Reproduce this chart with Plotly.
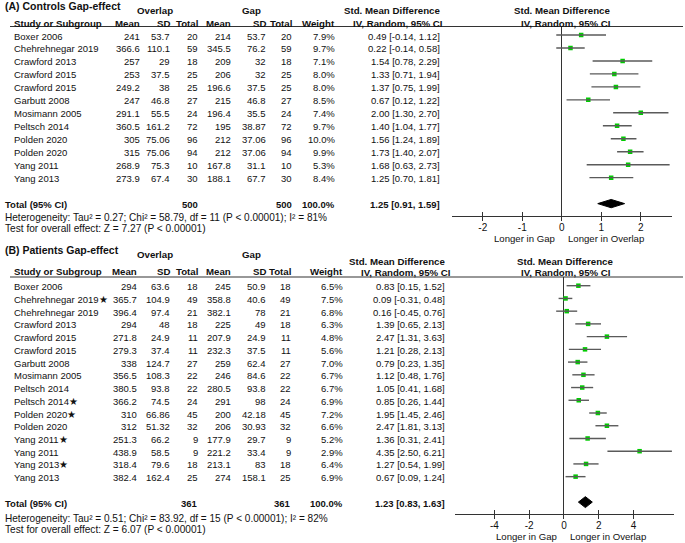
import plotly.graph_objects as go

# ---------------- data: panel A (Controls) ----------------
A_study = ["Boxer 2006", "Chehrehnegar 2019", "Crawford 2013", "Crawford 2015", "Crawford 2015",
           "Garbutt 2008", "Mosimann 2005", "Peltsch 2014", "Polden 2020", "Polden 2020",
           "Yang 2011", "Yang 2013"]
A_ov_mean = [241, 366.6, 257, 253, 249.2, 247, 291.1, 360.5, 305, 315, 268.9, 273.9]
A_ov_sd = [53.7, 110.1, 29, 37.5, 38, 46.8, 55.5, 161.2, 75.06, 75.06, 75.3, 67.4]
A_ov_n = [20, 59, 18, 25, 25, 27, 24, 72, 96, 94, 10, 30]
A_gap_mean = [214, 345.5, 209, 206, 196.6, 215, 196.4, 195, 212, 212, 167.8, 188.1]
A_gap_sd = [53.7, 76.2, 32, 32, 37.5, 46.8, 35.5, 38.87, 37.06, 37.06, 31.1, 67.7]
A_gap_n = [20, 59, 18, 25, 25, 27, 24, 72, 96, 94, 10, 30]
A_weight = [7.9, 9.7, 7.1, 8.0, 8.0, 8.5, 7.4, 9.7, 10.0, 9.9, 5.3, 8.4]
A_smd = [0.49, 0.22, 1.54, 1.33, 1.37, 0.67, 2.00, 1.40, 1.56, 1.73, 1.68, 1.25]
A_lo = [-0.14, -0.14, 0.78, 0.71, 0.75, 0.12, 1.30, 1.04, 1.24, 1.40, 0.63, 0.70]
A_hi = [1.12, 0.58, 2.29, 1.94, 1.99, 1.22, 2.70, 1.77, 1.89, 2.07, 2.73, 1.81]
A_total = {"n_ov": 500, "n_gap": 500, "smd": 1.25, "lo": 0.91, "hi": 1.59}
A_het = "Heterogeneity: Tau² = 0.27; Chi² = 58.79, df = 11 (P < 0.00001); I² = 81%"
A_test = "Test for overall effect: Z = 7.27 (P < 0.00001)"
A_ticks = [-2, -1, 0, 1, 2]

# ---------------- data: panel B (Patients) ----------------
B_study = ["Boxer 2006", "Chehrehnegar 2019★", "Chehrehnegar 2019", "Crawford 2013", "Crawford 2015",
           "Crawford 2015", "Garbutt 2008", "Mosimann 2005", "Peltsch 2014", "Peltsch 2014★",
           "Polden 2020★", "Polden 2020", "Yang 2011★", "Yang 2011", "Yang 2013★", "Yang 2013"]
B_ov_mean = [294, 365.7, 396.4, 294, 271.8, 279.3, 338, 356.5, 380.5, 366.2, 310, 312, 251.3, 438.9, 318.4, 382.4]
B_ov_sd = [63.6, 104.9, 97.4, 48, 24.9, 37.4, 124.7, 108.3, 93.8, 74.5, 66.86, 51.32, 66.2, 58.5, 79.6, 162.4]
B_ov_n = [18, 49, 21, 18, 11, 11, 27, 22, 22, 24, 45, 32, 9, 9, 18, 25]
B_gap_mean = [245, 358.8, 382.1, 225, 207.9, 232.3, 259, 246, 280.5, 291, 200, 206, 177.9, 221.2, 213.1, 274]
B_gap_sd = [50.9, 40.6, 78, 49, 24.9, 37.5, 62.4, 84.6, 93.8, 98, 42.18, 30.93, 29.7, 33.4, 83, 158.1]
B_gap_n = [18, 49, 21, 18, 11, 11, 27, 22, 22, 24, 45, 32, 9, 9, 18, 25]
B_weight = [6.5, 7.5, 6.8, 6.3, 4.8, 5.6, 7.0, 6.7, 6.7, 6.9, 7.2, 6.6, 5.2, 2.9, 6.4, 6.9]
B_smd = [0.83, 0.09, 0.16, 1.39, 2.47, 1.21, 0.79, 1.12, 1.05, 0.85, 1.95, 2.47, 1.36, 4.35, 1.27, 0.67]
B_lo = [0.15, -0.31, -0.45, 0.65, 1.31, 0.28, 0.23, 0.48, 0.41, 0.26, 1.45, 1.81, 0.31, 2.50, 0.54, 0.09]
B_hi = [1.52, 0.48, 0.76, 2.13, 3.63, 2.13, 1.35, 1.76, 1.68, 1.44, 2.46, 3.13, 2.41, 6.21, 1.99, 1.24]
B_total = {"n_ov": 361, "n_gap": 361, "smd": 1.23, "lo": 0.83, "hi": 1.63}
B_het = "Heterogeneity: Tau² = 0.51; Chi² = 83.92, df = 15 (P < 0.00001); I² = 82%"
B_test = "Test for overall effect: Z = 6.07 (P < 0.00001)"
B_ticks = [-4, -2, 0, 2, 4]

# ---------------- layout helpers ----------------
W, H = 685, 543
FONT = "Liberation Sans, Arial, sans-serif"
TXT = "#111111"
LINE = "#333333"
CI_COL = "#5a5a5a"
GREEN = "#00cc00"


def fx(px):
    return px / W


def fy(py):
    return 1 - py / H


annotations = []


def ann(text, x, y, xanchor="right", yref="paper", size=9.5, bold=False, yshift=0, xref="paper", xshift=0):
    if bold:
        text = "<b>" + text + "</b>"
    annotations.append(dict(text=text, x=x, y=y, xref=xref, yref=yref, xanchor=xanchor,
                            yanchor="middle", showarrow=False, xshift=xshift, yshift=yshift,
                            font=dict(family=FONT, size=size, color=TXT)))


def fmt(v):
    return f"{v:g}"


def fmt_ci(s, lo, hi):
    return f"{s:.2f} [{lo:.2f}, {hi:.2f}]"


panels = [
    dict(title="(A) Controls Gap-effect", study=A_study, ov_mean=A_ov_mean, ov_sd=A_ov_sd, ov_n=A_ov_n,
         gap_mean=A_gap_mean, gap_sd=A_gap_sd, gap_n=A_gap_n, weight=A_weight, smd=A_smd, lo=A_lo, hi=A_hi,
         total=A_total, het=A_het, test=A_test, ticks=A_ticks,
         cols=[142, 172, 200, 233, 268, 294, 337], ci_x=442,
         y_title=6, y_group=11, y_std=11, y_head=23.5, y_iv=23.5, y_line=26.5,
         std_c=391.5, iv_c=397.5, rstd_c=561.5, riv_c=566,
         row0=35, step=12.97, axis_y=216, y_het=217.3, y_test=228.3, y_lab=238,
         xdom=(452, 672), xrange=(-2.78, 2.79), dh=0.32, xr="x", yr="y", xo="x3"),
    dict(title="(B) Patients Gap-effect", study=B_study, ov_mean=B_ov_mean, ov_sd=B_ov_sd, ov_n=B_ov_n,
         gap_mean=B_gap_mean, gap_sd=B_gap_sd, gap_n=B_gap_n, weight=B_weight, smd=B_smd, lo=B_lo, hi=B_hi,
         total=B_total, het=B_het, test=B_test, ticks=B_ticks,
         cols=[139, 172, 200, 233, 268, 293, 345], ci_x=447,
         y_title=249.5, y_group=254, y_std=261, y_head=271.5, y_iv=272.5, y_line=277,
         std_c=396.5, iv_c=406, rstd_c=564.5, riv_c=566,
         row0=285.7, step=12.73, axis_y=514, y_het=518.3, y_test=529.3, y_lab=536.5,
         xdom=(455, 674), xrange=(-6.27, 6.33), dh=0.43, xr="x2", yr="y2", xo="x4"),
]

fig = go.Figure()
shapes = []
layout_axes = {}

for k, p in enumerate(panels):
    n = len(p["study"])
    rows = list(range(n))
    total_row = n + 1
    c = p["cols"]
    yr = p["yr"]

    # headers
    ann(p["title"], fx(3), fy(p["y_title"]), xanchor="left", size=10.5, bold=True)
    ann("Overlap", fx(155), fy(p["y_group"]), xanchor="center", size=9.7, bold=True)
    ann("Gap", fx(252), fy(p["y_group"]), xanchor="center", size=9.7, bold=True)
    ann("Study or Subgroup", fx(12), fy(p["y_head"]), xanchor="left", size=9.7, bold=True)
    for lab, xc in zip(["Mean", "SD", "Total", "Mean", "SD", "Total", "Weight"], c):
        ann(lab, fx(xc), fy(p["y_head"]), xanchor="right", size=9.7, bold=True)
    ann("Std. Mean Difference", fx(p["std_c"]), fy(p["y_std"]), xanchor="center", size=9.7, bold=True)
    ann("IV, Random, 95% CI", fx(p["iv_c"]), fy(p["y_iv"]), xanchor="center", size=9.7, bold=True)
    ann("Std. Mean Difference", fx(p["rstd_c"]), fy(p["y_std"]), xanchor="center", size=9.7, bold=True)
    ann("IV, Random, 95% CI", fx(p["riv_c"]), fy(p["y_iv"]), xanchor="center", size=9.7, bold=True)
    shapes.append(dict(type="line", xref="paper", yref="paper", x0=fx(10), x1=fx(683),
                       y0=fy(p["y_line"]), y1=fy(p["y_line"]), line=dict(color=LINE, width=1.2)))

    # study rows
    for i in rows:
        vals = [fmt(p["ov_mean"][i]), fmt(p["ov_sd"][i]), str(p["ov_n"][i]),
                fmt(p["gap_mean"][i]), fmt(p["gap_sd"][i]), str(p["gap_n"][i]),
                f"{p['weight'][i]:.1f}%"]
        ann(p["study"][i], fx(12), i, xanchor="left", yref=yr, yshift=-1)
        for v, xc in zip(vals, c):
            ann(v, fx(xc), i, xanchor="right", yref=yr, yshift=-1)
        ann(fmt_ci(p["smd"][i], p["lo"][i], p["hi"][i]), fx(p["ci_x"]), i, xanchor="right", yref=yr, yshift=-1)

    # total row
    t = p["total"]
    ann("Total (95% CI)", fx(3), total_row, xanchor="left", yref=yr, bold=True, yshift=-1)
    ann(str(t["n_ov"]), fx(c[2]), total_row, yref=yr, bold=True, yshift=-1)
    ann(str(t["n_gap"]), fx(c[5]), total_row, yref=yr, bold=True, yshift=-1)
    ann("100.0%", fx(c[6]), total_row, yref=yr, bold=True, yshift=-1)
    ann(fmt_ci(t["smd"], t["lo"], t["hi"]), fx(p["ci_x"]), total_row, yref=yr, bold=True, yshift=-1)
    ann(p["het"], fx(3), fy(p["y_het"]), xanchor="left", size=10.05)
    ann(p["test"], fx(3), fy(p["y_test"]), xanchor="left", size=10.15)

    # axis direction labels
    ann("Longer in Gap", 0, fy(p["y_lab"]), xanchor="right", xref=p["xr"], xshift=-5, size=9.6)
    ann("Longer in Overlap", 0, fy(p["y_lab"]), xanchor="left", xref=p["xr"], xshift=4, size=9.6)

    # CI lines (drawn on the overlay axis that carries the outside tick halves)
    xs, ys = [], []
    for i in rows:
        xs += [p["lo"][i], p["hi"][i], None]
        ys += [i, i, None]
    fig.add_trace(go.Scatter(x=xs, y=ys, mode="lines", line=dict(color=CI_COL, width=1.4),
                             xaxis=p["xo"], yaxis=yr, hoverinfo="skip", showlegend=False))
    # point estimates
    fig.add_trace(go.Scatter(x=p["smd"], y=rows, mode="markers",
                             marker=dict(symbol="square", size=4.5, color=GREEN, line=dict(width=0)),
                             xaxis=p["xr"], yaxis=yr, showlegend=False))
    # diamond
    dh = p["dh"]
    fig.add_trace(go.Scatter(x=[t["lo"], t["smd"], t["hi"], t["smd"], t["lo"]],
                             y=[total_row, total_row - dh, total_row, total_row + dh, total_row],
                             mode="lines", fill="toself", fillcolor="black", line=dict(color="black", width=1),
                             xaxis=p["xr"], yaxis=yr, hoverinfo="skip", showlegend=False))

    # axes
    x0, x1 = p["xdom"]
    top_r = (p["y_line"] - p["row0"]) / p["step"]
    bot_r = (p["axis_y"] - p["row0"]) / p["step"]
    xname = "xaxis" if k == 0 else "xaxis2"
    yname = "yaxis" if k == 0 else "yaxis2"
    oname = "xaxis3" if k == 0 else "xaxis4"
    layout_axes[xname] = dict(domain=[fx(x0), fx(x1)], range=list(p["xrange"]), anchor=yr,
                              showgrid=False, zeroline=True, zerolinecolor=LINE, zerolinewidth=1.2,
                              showline=True, linecolor=LINE, linewidth=1.2,
                              ticks="inside", ticklen=3.5, tickwidth=1.2, tickcolor=LINE,
                              ticklabelstandoff=2,
                              tickvals=p["ticks"], ticktext=[str(v) for v in p["ticks"]],
                              tickfont=dict(family=FONT, size=10, color=TXT), fixedrange=True)
    layout_axes[oname] = dict(overlaying=p["xr"], matches=p["xr"], anchor=yr, side="bottom",
                              showgrid=False, zeroline=False, showline=False,
                              ticks="outside", ticklen=3.5, tickwidth=1.2, tickcolor=LINE,
                              tickvals=p["ticks"], showticklabels=False, fixedrange=True)
    layout_axes[yname] = dict(domain=[fy(p["axis_y"]), fy(p["y_line"])], range=[bot_r, top_r],
                              anchor=p["xr"], visible=False, showgrid=False, zeroline=False, fixedrange=True)

fig.update_layout(width=W, height=H, margin=dict(l=0, r=0, t=0, b=0),
                  paper_bgcolor="white", plot_bgcolor="white",
                  annotations=annotations, shapes=shapes, showlegend=False, **layout_axes)

fig.write_html("out.html", config={"displayModeBar": False},
               post_script="document.body.style.margin='0';document.body.style.overflow='hidden';")
